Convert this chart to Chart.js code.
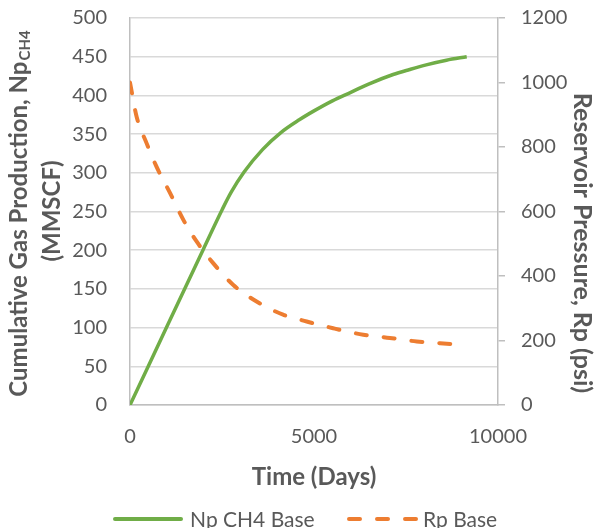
<!DOCTYPE html>
<html>
<head>
<meta charset="utf-8">
<title>Np CH4 and Rp vs Time</title>
<script src="https://cdn.jsdelivr.net/npm/chart.js"></script>
<style>
    html, body { margin: 0; padding: 0; background: #ffffff; }
    .wrap { width: 596px; height: 528px; position: relative; }
</style>
</head>
<body>
<div class="wrap"><canvas id="chart"></canvas></div>
<script>
// cumulative gas production (MMSCF) vs time (days)
const npDays   = [0, 1000, 2000, 2500, 2750, 3100, 3600, 4100, 4600, 5000, 5500, 6000, 6500, 7150, 7600, 8050, 8600, 9150];
const npValues = [0, 101, 202, 252, 275, 301, 330, 352, 368.5, 380, 393, 404, 415, 427, 433.5, 439.5, 445.5, 450];

// reservoir pressure (psi) vs time (days)
const rpDays   = [0, 180, 450, 720, 1090, 1450, 1810, 2260, 2800, 3440, 4160, 4800, 5520, 6340, 7060, 7790, 8740];
const rpValues = [1000, 894, 812, 739, 657, 574, 507, 440, 373, 321, 280, 259, 238, 218, 208, 197, 189];

const leftTicks  = { min: 0, max: 500, step: 50 };
const rightTicks = { min: 0, max: 1200, step: 200 };
const xTicks     = { min: 0, max: 10000, step: 5000 };

const GREEN = '#70AD47';
const ORANGE = '#ED7D31';
const TEXT = '#595959';
const FONT = 'Lato, "Open Sans", sans-serif';
const TITLE_SIZE = 24;

function toPoints(xs, ys) {
    return xs.map((x, i) => ({ x: x, y: ys[i] }));
}

// titles and legend drawn by hand (subscript + dashed legend sample)
const decorations = {
    id: 'decorations',
    afterDraw(chart) {
        const ctx = chart.ctx;
        const area = chart.chartArea;
        ctx.save();
        ctx.fillStyle = TEXT;
        ctx.textBaseline = 'alphabetic';

        // left title, line 1 with subscript
        const main = 'Cumulative Gas Production, Np';
        const sub = 'CH4';
        ctx.font = 'bold ' + TITLE_SIZE + 'px ' + FONT;
        const w1 = ctx.measureText(main).width;
        ctx.font = 'bold 15px ' + FONT;
        const w2 = ctx.measureText(sub).width;
        ctx.save();
        ctx.translate(27, 214);
        ctx.rotate(-Math.PI / 2);
        ctx.textAlign = 'left';
        const x0 = -(w1 + w2) / 2;
        ctx.font = 'bold ' + TITLE_SIZE + 'px ' + FONT;
        ctx.fillText(main, x0, 0);
        ctx.font = 'bold 15px ' + FONT;
        ctx.fillText(sub, x0 + w1 + 1, 3);
        ctx.restore();

        // left title, line 2
        ctx.save();
        ctx.translate(60, 211);
        ctx.rotate(-Math.PI / 2);
        ctx.textAlign = 'center';
        ctx.font = 'bold ' + TITLE_SIZE + 'px ' + FONT;
        ctx.fillText('(MMSCF)', 0, 0);
        ctx.restore();

        // right title
        ctx.save();
        ctx.translate(574, 243);
        ctx.rotate(Math.PI / 2);
        ctx.textAlign = 'center';
        ctx.font = 'bold 25px ' + FONT;
        ctx.fillText('Reservoir Pressure, Rp (psi)', 0, 0);
        ctx.restore();

        // x title
        ctx.textAlign = 'center';
        ctx.font = 'bold ' + TITLE_SIZE + 'px ' + FONT;
        ctx.fillText('Time (Days)', (area.left + area.right) / 2, 485);

        // legend
        ctx.lineWidth = 4;
        ctx.lineCap = 'round';
        ctx.strokeStyle = GREEN;
        ctx.beginPath();
        ctx.moveTo(115, 519);
        ctx.lineTo(181, 519);
        ctx.stroke();
        ctx.strokeStyle = ORANGE;
        ctx.setLineDash([11, 17]);
        ctx.beginPath();
        ctx.moveTo(349, 519);
        ctx.lineTo(416, 519);
        ctx.stroke();
        ctx.setLineDash([]);
        ctx.textAlign = 'left';
        ctx.font = '21px ' + FONT;
        ctx.fillText('Np CH4 Base', 190, 527);
        ctx.fillText('Rp Base', 423, 527);
        ctx.restore();
    }
};

const plainNumber = (v) => String(v);

// keep tick padding from pushing the plot area down
function fitVertical(width) {
    return function (scale) {
        scale.width = width;
        scale.paddingTop = 10;
        scale.paddingBottom = 10;
    };
}

new Chart(document.getElementById('chart'), {
    type: 'line',
    data: {
        datasets: [
            {
                label: 'Np CH4 Base',
                data: toPoints(npDays, npValues),
                yAxisID: 'y',
                borderColor: GREEN,
                borderWidth: 3.5,
                pointRadius: 0,
                cubicInterpolationMode: 'monotone',
                fill: false
            },
            {
                label: 'Rp Base',
                data: toPoints(rpDays, rpValues),
                yAxisID: 'y1',
                borderColor: ORANGE,
                borderWidth: 4,
                borderDash: [11, 17],
                borderCapStyle: 'round',
                pointRadius: 0,
                cubicInterpolationMode: 'monotone',
                fill: false
            }
        ]
    },
    options: {
        responsive: true,
        maintainAspectRatio: false,
        animation: false,
        layout: { padding: { top: 18, left: 0, right: 0, bottom: 0 } },
        plugins: {
            legend: { display: false },
            tooltip: { enabled: false }
        },
        scales: {
            x: {
                type: 'linear',
                min: xTicks.min,
                max: xTicks.max,
                afterFit(scale) { scale.height = 123; },
                ticks: {
                    stepSize: xTicks.step,
                    color: TEXT,
                    font: { family: FONT, size: 20 },
                    padding: 20,
                    maxRotation: 0,
                    callback: plainNumber
                },
                grid: { drawOnChartArea: false, drawTicks: false },
                border: { display: true, color: '#BFBFBF', width: 1.5 }
            },
            y: {
                position: 'left',
                min: leftTicks.min,
                max: leftTicks.max,
                afterFit: fitVertical(130),
                ticks: {
                    stepSize: leftTicks.step,
                    color: TEXT,
                    font: { family: FONT, size: 20 },
                    padding: 23,
                    callback: plainNumber
                },
                grid: { color: '#D9D9D9', lineWidth: 1.5, drawTicks: false },
                border: { display: true, color: '#BFBFBF', width: 1.5 }
            },
            y1: {
                position: 'right',
                min: rightTicks.min,
                max: rightTicks.max,
                afterFit: fitVertical(98),
                ticks: {
                    stepSize: rightTicks.step,
                    color: TEXT,
                    font: { family: FONT, size: 20 },
                    padding: 16,
                    callback: plainNumber
                },
                grid: { drawOnChartArea: false, drawTicks: true, tickLength: 7, color: '#BFBFBF', lineWidth: 1.5 },
                border: { display: true, color: '#BFBFBF', width: 1.5 }
            }
        }
    },
    plugins: [decorations]
});
</script>
</body>
</html>
